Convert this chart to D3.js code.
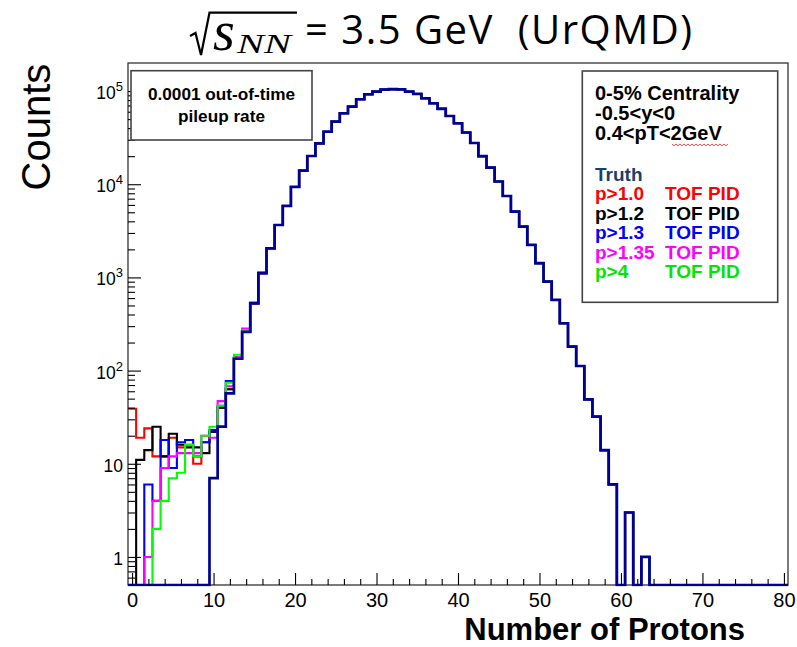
<!DOCTYPE html>
<html><head><meta charset="utf-8">
<script src="https://cdn.jsdelivr.net/npm/d3@7"></script>
<style>body{margin:0;background:#fff}svg{display:block}</style>
</head><body>
<svg id="chart" width="797" height="647"></svg>
<script>
// ---------- data ----------
const binCenters = d3.range(0, 81); // Number of Protons, bins of width 1 centred on integers
const truth = [0,0,0,0,0,0,0,0,0,0,
  7,25,57,134,260,526,1110,2050,3650,5850,
  9350,14000,20100,27500,36600,47000,57800,68000,81700,92400,
  98600,103500,105000,104000,98500,93100,83700,74000,64300,54000,
  45100,35900,27700,20000,15100,10700,7480,5080,3510,2230,
  1420,901,573,322,181,112,49,32,14,6,
  0,3,0,1,0,0,0,0,0,0,
  0,0,0,0,0,0,0,0,0,0,0];
// low-multiplicity bins (0..16) where the PID-cut curves differ from truth; above they coincide with truth
const redLow     = [39,19,24,12,12,19,15,16,10,17,22,40,63,135,262,528,1110];
const blackLow   = [0,11,14,25,12,21,16,15,15,13,22,40,63,135,262,528,1110];
const blueLow    = [0,0,6,4,18,9,17,18,12,17,23,42,77,136,262,528,1110];
const magentaLow = [0,0,1,4,9,12,13,13,13,20,19,47,68,140,282,528,1110];
const greenLow   = [0,0,0,2,4,7,8,16,12,20,25,42,74,148,271,545,1140];

const xTickValues = [0,10,20,30,40,50,60,70,80];
const xMinorTicks = d3.range(0, 81, 2).filter(v => v % 10 !== 0);
const yTickValues = [1,10,100,1000,10000,100000];
const yLabelBase  = ["1","10","10","10","10","10"];
const yLabelExp   = ["","","2","3","4","5"];
const yMinorTicks = [0.6,0.7,0.8,0.9].concat(
  [1,10,100,1000,10000,100000].flatMap(d => [2,3,4,5,6,7,8,9].map(m => m*d)).filter(v => v < 2e5));

const headerLines = ["0-5% Centrality","-0.5<y<0","0.4<pT<2GeV"];
const legendLabels = ["Truth","p>1.0","p>1.2","p>1.3","p>1.35","p>4"];
const legendSuffix = ["","TOF PID","TOF PID","TOF PID","TOF PID","TOF PID"];
const noteLines = ["0.0001 out-of-time","pileup rate"];

// ---------- styles ----------
const legendColors = ["#1B3F6B","#FF0000","#000000","#0000FF","#FF00FF","#00E600"];
const seriesDefs = [
  {low: redLow, color:"#FF0000"},
  {low: blackLow, color:"#000000"},
  {low: blueLow, color:"#0000FF"},
  {low: magentaLow, color:"#FF00FF"},
  {low: greenLow, color:"#00FF00"}
];
const FONT = "'Liberation Sans', Arial, Helvetica, sans-serif";
const SERIF = "'Liberation Serif', 'DejaVu Serif', serif";

const svg = d3.select("#chart");
const frame = {left:128, right:788, top:63, bottom:585};
const x = d3.scaleLinear().domain([-0.5, 80.5]).range([frame.left, frame.right]);
const y = d3.scaleLog().domain([0.5, 2e5]).range([frame.bottom, frame.top]);

svg.append("defs").append("clipPath").attr("id","fclip").append("rect")
  .attr("x", frame.left).attr("y", frame.top)
  .attr("width", frame.right - frame.left).attr("height", frame.bottom - frame.top + 1.5);

// frame
svg.append("rect").attr("x", frame.left).attr("y", frame.top)
  .attr("width", frame.right - frame.left).attr("height", frame.bottom - frame.top)
  .attr("fill","none").attr("stroke","#333").attr("stroke-width",1.3);

// histograms
const line = d3.line().x(d => x(d[0])).y(d => y(Math.max(d[1], 0.5)));
const steps = vals => vals.flatMap((v,i) => [[binCenters[i]-0.5, v],[binCenters[i]+0.5, v]]);
const hg = svg.append("g").attr("clip-path","url(#fclip)");
seriesDefs.forEach(s => {
  const vals = s.low.concat(truth.slice(s.low.length));
  hg.append("path").attr("d", line(steps(vals)))
    .attr("fill","none").attr("stroke", s.color).attr("stroke-width",2.1)
    .attr("stroke-linejoin","miter");
});
hg.append("path").attr("d", line(steps(truth)))
  .attr("fill","none").attr("stroke","#000099").attr("stroke-width",2.7);

// x axis
const gx = svg.append("g").attr("transform",`translate(0,${frame.bottom})`)
  .style("font-family", FONT);
gx.call(d3.axisBottom(x).tickValues(xTickValues).tickSize(-12).tickPadding(8).tickFormat(d3.format("d")));
gx.append("g").call(d3.axisBottom(x).tickValues(xMinorTicks).tickSize(-6).tickFormat(""));
gx.selectAll(".domain").remove();
gx.selectAll("line").attr("stroke","#000").attr("stroke-width",1.1);
gx.selectAll("text").attr("font-size","20px").attr("fill","#000").attr("font-family",FONT);

// y axis
const gy = svg.append("g").attr("transform",`translate(${frame.left},0)`);
gy.call(d3.axisLeft(y).tickValues(yTickValues).tickSize(-13).tickFormat(""));
gy.append("g").call(d3.axisLeft(y).tickValues(yMinorTicks).tickSize(-7).tickFormat(""));
gy.selectAll(".domain").remove();
gy.selectAll("line").attr("stroke","#000").attr("stroke-width",1.1);
yTickValues.forEach((v,i) => {
  const t = svg.append("text").attr("x", 123).attr("y", y(v) + 8)
    .attr("text-anchor","end").attr("font-family",FONT).attr("font-size","17.5px").attr("fill","#000");
  t.append("tspan").text(yLabelBase[i]);
  if (yLabelExp[i]) t.append("tspan").attr("font-size","13px").attr("dy",-8).text(yLabelExp[i]);
});

// axis titles
svg.append("text").attr("x", 745).attr("y", 640).attr("text-anchor","end")
  .attr("font-family",FONT).attr("font-weight","bold").attr("font-size","31px").text("Number of Protons");
svg.append("text").attr("transform","translate(50,127) rotate(-90)").attr("text-anchor","middle")
  .attr("font-family",FONT).attr("font-size","40px").text("Counts");

// title
svg.append("path").attr("d","M190,36 L195.5,33 L201,55 L209.5,12.7 L297,12.7")
  .attr("fill","none").attr("stroke","#000").attr("stroke-width",2.2).attr("stroke-linejoin","miter");
const rad = svg.append("text").attr("x",213).attr("y",50).attr("font-family",SERIF).attr("font-style","italic");
rad.append("tspan").attr("font-size","56px").text("s");
svg.append("text").attr("x",237).attr("y",53).attr("font-family",SERIF)
  .attr("font-style","italic").attr("font-size","27px").attr("textLength",54)
  .attr("lengthAdjust","spacingAndGlyphs").text("NN");
svg.append("text").attr("x",305).attr("y",43.5).attr("font-family","'Open Sans', 'Noto Sans', sans-serif")
  .attr("font-size","40px").style("white-space","pre").attr("textLength",387).attr("lengthAdjust","spacing")
  .text("= 3.5 GeV  (UrQMD)");

// note box (left)
svg.append("rect").attr("x",131).attr("y",70.7).attr("width",181).attr("height",69.3)
  .attr("fill","#fff").attr("stroke","#444").attr("stroke-width",1.6);
noteLines.forEach((s,i) => svg.append("text").attr("x",221.5).attr("y",99.5 + i*22)
  .attr("text-anchor","middle").attr("font-family",FONT).attr("font-weight","bold")
  .attr("font-size","17.2px").text(s));

// legend box (right)
svg.append("rect").attr("x",582.3).attr("y",71).attr("width",195.4).attr("height",231.3)
  .attr("fill","#fff").attr("stroke","#444").attr("stroke-width",1.6);
headerLines.forEach((s,i) => svg.append("text").attr("x",595).attr("y",99.5 + i*20.4)
  .attr("font-family",FONT).attr("font-weight","bold").attr("font-size","20px").attr("fill","#000").text(s));
// spell-check squiggle under "2GeV"
const wavy = d3.range(672, 729, 2).map((px,i) => [px, 144.6 + (i % 2 ? 1.2 : -0.6)]);
svg.append("path").attr("d", d3.line()(wavy)).attr("fill","none").attr("stroke","#E02020").attr("stroke-width",0.8);
legendLabels.forEach((s,i) => {
  const yy = 181 + i*19.4;
  svg.append("text").attr("x",595).attr("y",yy).attr("font-family",FONT).attr("font-weight","bold")
    .attr("font-size","19px").attr("fill",legendColors[i]).text(s);
  if (legendSuffix[i]) svg.append("text").attr("x",665).attr("y",yy).attr("font-family",FONT)
    .attr("font-weight","bold").attr("font-size","19px").attr("fill",legendColors[i]).text(legendSuffix[i]);
});
</script>
</body></html>
